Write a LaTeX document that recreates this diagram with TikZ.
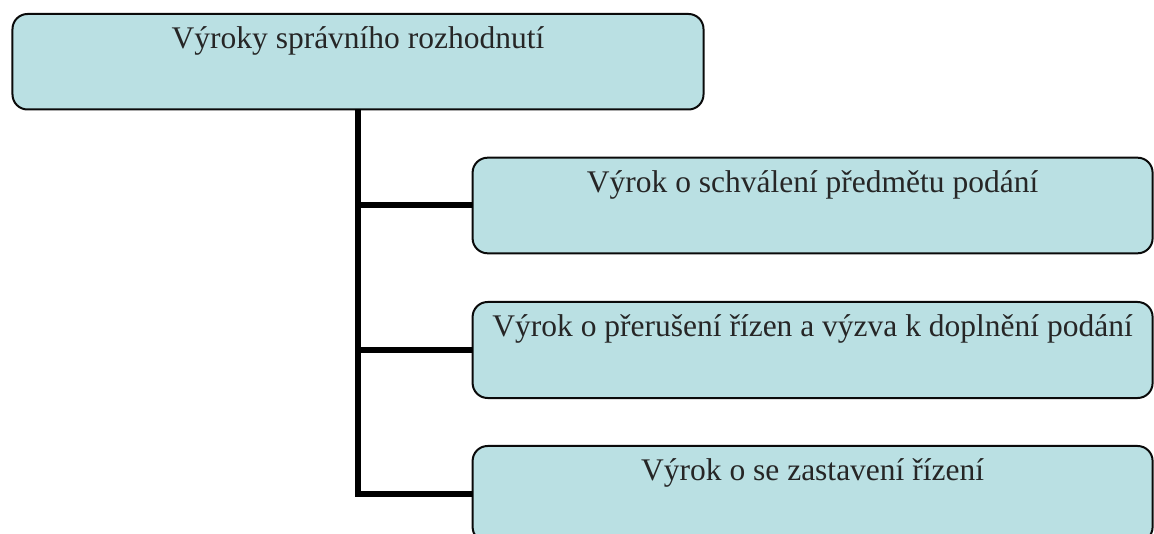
\documentclass[tikz,border=0pt]{standalone}
\usepackage{fontspec}
\setmainfont{Liberation Serif}
\definecolor{boxfill}{RGB}{186,224,227}
\definecolor{boxline}{RGB}{10,10,10}
\begin{document}
\begin{tikzpicture}[x=1bp,y=-1bp,
  box/.style={draw=boxline, line width=2bp, fill=boxfill, rounded corners=15bp,
              inner sep=0pt, outer sep=0pt, rectangle},
  conn/.style={draw=black, line width=6bp, line join=miter},
  txt/.style={anchor=base, inner sep=0pt, font=\fontsize{31.5bp}{38bp}\selectfont, text=black!85}]
\useasboundingbox (0,0) rectangle (1154,534);
\clip (0,0) rectangle (1154,534);
\node[box, minimum width=691bp, minimum height=95.5bp] (top) at (358,61.75) {};
\node[box, minimum width=680bp, minimum height=95.6bp] (c1) at (812.6,205.5) {};
\node[box, minimum width=680bp, minimum height=96bp] (c2) at (812.6,350) {};
\node[box, minimum width=680bp, minimum height=96bp] (c3) at (812.6,494) {};
\draw[conn] (top.south) |- (c1.west);
\draw[conn] (top.south) |- (c2.west);
\draw[conn] (top.south) |- (c3.west);
\node[txt] (ttop) at ([yshift=-34.5bp]top.north) {Výroky správního rozhodnutí};
\node[txt] (t1) at ([yshift=-34.5bp]c1.north) {Výrok o schválení předmětu podání};
\node[txt] (t2) at ([yshift=-34.5bp]c2.north) {Výrok o přerušení řízen a výzva k doplnění podání};
\node[txt] (t3) at ([yshift=-34.5bp]c3.north) {Výrok o se zastavení řízení};
\end{tikzpicture}
\end{document}
